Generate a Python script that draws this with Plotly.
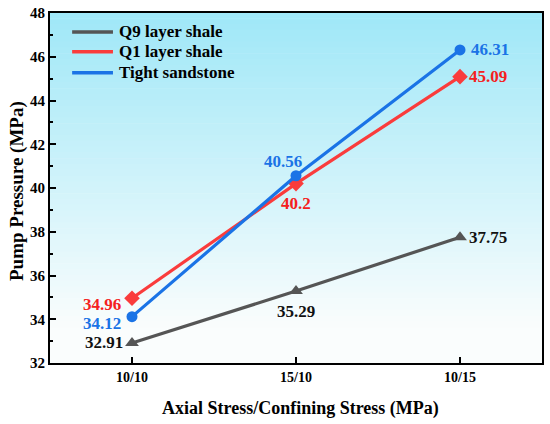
import plotly.graph_objects as go

categories = ["10/10", "15/10", "10/15"]
q9_shale = [32.91, 35.29, 37.75]
q1_shale = [34.96, 40.2, 45.09]
tight_sandstone = [34.12, 40.56, 46.31]

FONT = "Liberation Serif, DejaVu Serif, serif"

# name, values, line colour, marker symbol, marker size, label colour
series = [
    ("Q9 layer shale", q9_shale, "#555555", "triangle-up", 12, "#111111"),
    ("Q1 layer shale", q1_shale, "#fa3c3c", "diamond", 12, "#f52020"),
    ("Tight sandstone", tight_sandstone, "#1a73e6", "circle", 11, "#1a73e6"),
]

# (xanchor, xshift, yshift) of each value label
label_offsets = {
    "Q9 layer shale": [("right", -7, 1), ("center", 0, -20), ("left", 7, 0)],
    "Q1 layer shale": [("right", -9, -6), ("center", 0, -20), ("left", 7, 0)],
    "Tight sandstone": [("right", -9, -7), ("center", -13, 14), ("left", 9, 0)],
}

# hand-drawn legend rows (paper coords of the plot area)
legend_rows_y = [0.946, 0.889, 0.829]

fig = go.Figure()

# gradient background of the plot area
n_steps = 60
top = (160, 232, 248)
bot = (250, 253, 253)
for i in range(n_steps):
    g = min(1.0, (i / (n_steps - 1)) / 0.9)
    c = tuple(int(top[k] + (bot[k] - top[k]) * g) for k in range(3))
    fig.add_shape(type="rect", xref="x domain", yref="y domain",
                  x0=0, x1=1, y0=1 - (i + 1) / n_steps, y1=1 - i / n_steps + 0.002,
                  fillcolor=f"rgb{c}", line_width=0, layer="below")

for (name, vals, color, sym, msize, tcolor), ly in zip(series, legend_rows_y):
    fig.add_trace(go.Scatter(
        x=categories, y=vals, mode="lines+markers", name=name,
        line=dict(color=color, width=3.2),
        marker=dict(symbol=sym, size=msize, color=color),
        showlegend=False, hoverinfo="skip"))
    for (xa, xs, ys), cat, v in zip(label_offsets[name], categories, vals):
        fig.add_annotation(
            x=cat, y=v, text=f"<b>{v:g}</b>", showarrow=False,
            xanchor=xa, yanchor="middle", xshift=xs, yshift=ys,
            font=dict(family=FONT, size=17, color=tcolor))
    # legend entry
    fig.add_shape(type="line", xref="paper", yref="paper",
                  x0=0.045, x1=0.128, y0=ly, y1=ly,
                  line=dict(color=color, width=3.5))
    fig.add_annotation(x=0.136, y=ly, xref="paper", yref="paper",
                       text=f"<b>{name}</b>", showarrow=False,
                       xanchor="left", yanchor="middle",
                       font=dict(family=FONT, size=17, color="black"))

# axis titles
fig.add_annotation(x=0.5, y=0, xref="paper", yref="paper", xshift=4, yshift=-45,
                   text="<b>Axial Stress/Confining Stress (MPa)</b>", showarrow=False,
                   xanchor="center", yanchor="middle",
                   font=dict(family=FONT, size=18, color="black"))
fig.add_annotation(x=0, y=0.5, xref="paper", yref="paper", xshift=-33, yshift=-3,
                   text="<b>Pump Pressure (MPa)</b>", showarrow=False, textangle=-90,
                   xanchor="center", yanchor="middle",
                   font=dict(family=FONT, size=19, color="black"))

fig.update_layout(
    width=550, height=424,
    margin=dict(l=50, r=8, t=13, b=61),
    paper_bgcolor="white", plot_bgcolor="white",
    font=dict(family=FONT, color="black"),
    showlegend=False,
)
fig.update_xaxes(
    type="category", range=[-0.5, 2.5], automargin=False,
    showline=True, linecolor="black", linewidth=2, mirror=True,
    ticks="inside", ticklen=6, tickwidth=2, tickcolor="black",
    showgrid=False, zeroline=False, ticklabeloverflow="allow",
    tickfont=dict(family=FONT, size=14, color="black"),
    tickprefix="<b>", ticksuffix="</b>",
)
fig.update_yaxes(
    range=[32, 48], dtick=2, automargin=False,
    showline=True, linecolor="black", linewidth=2, mirror=True,
    ticks="inside", ticklen=6, tickwidth=2, tickcolor="black",
    minor=dict(ticks="inside", ticklen=3, tickwidth=1.5, dtick=1, tickcolor="black"),
    showgrid=False, zeroline=False, ticklabeloverflow="allow",
    tickfont=dict(family=FONT, size=15, color="black"),
    tickprefix="<b>", ticksuffix="</b>",
)

# drop the default 8px body margin so the figure fills the window exactly
fig.write_html("out.html", config={"displayModeBar": False},
               post_script="document.body.style.margin='0px';")
